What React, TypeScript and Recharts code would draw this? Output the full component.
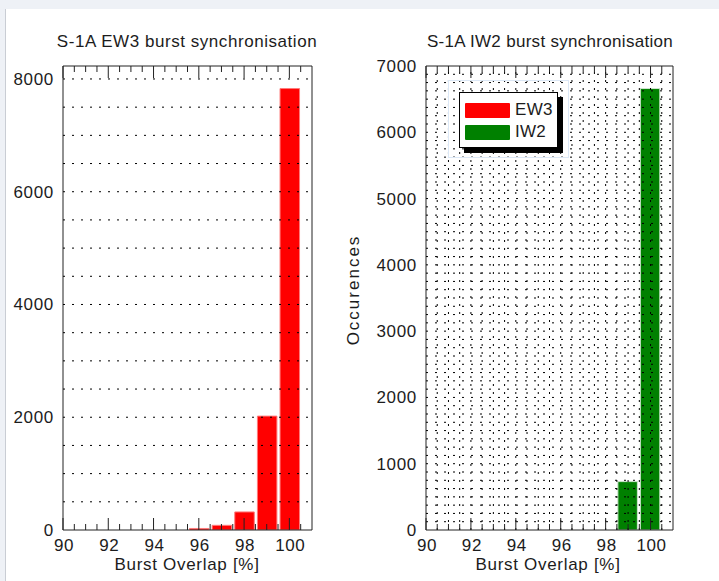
import React from 'react';
import { BarChart, Bar, XAxis, YAxis, ReferenceLine, Legend } from 'recharts';

// ---------- data ----------
const overlapBins = [90, 91, 92, 93, 94, 95, 96, 97, 98, 99, 100];
const ew3Counts = [0, 0, 0, 0, 0, 0, 27, 83, 320, 2020, 7830];
const iw2Counts = [0, 0, 0, 0, 0, 0, 0, 0, 0, 730, 6660];

const xDomain = [90, 101];
const xMajorTicks = [90, 92, 94, 96, 98, 100];
const xMinorTicks = [90.5, 91, 91.5, 92.5, 93, 93.5, 94.5, 95, 95.5, 96.5, 97, 97.5, 98.5, 99, 99.5, 100.5];

const ew3YMax = 8230;
const ew3YTicks = [0, 2000, 4000, 6000, 8000];
const ew3YGrid = [500, 1000, 1500, 2000, 2500, 3000, 3500, 4000, 4500, 5000, 5500, 6000, 6500, 7000, 7500, 8000];

const iw2YMax = 7000;
const iw2YTicks = [0, 1000, 2000, 3000, 4000, 5000, 6000, 7000];
const iw2YGrid = [
  125, 250, 375, 500, 625, 750, 875, 1000, 1125, 1250, 1375, 1500, 1625, 1750, 1875, 2000,
  2125, 2250, 2375, 2500, 2625, 2750, 2875, 3000, 3125, 3250, 3375, 3500, 3625, 3750, 3875, 4000,
  4125, 4250, 4375, 4500, 4625, 4750, 4875, 5000, 5125, 5250, 5375, 5500, 5625, 5750, 5875, 6000,
  6125, 6250, 6375, 6500, 6625, 6750, 6875,
];
const iw2XGrid = [90.5, 91, 91.5, 92, 92.5, 93, 93.5, 94, 94.5, 95, 95.5, 96, 96.5, 97, 97.5, 98, 98.5, 99, 99.5, 100, 100.5];

const seriesNames = ['EW3', 'IW2'];
const seriesColors = ['#ff0000', '#008000'];
const titles = ['S-1A EW3 burst synchronisation', 'S-1A IW2 burst synchronisation'];
const xLabel = 'Burst Overlap [%]';
const yLabel = 'Occurences';

const ew3Data = overlapBins.map((bin, i) => ({ bin, count: ew3Counts[i] }));
const iw2Data = overlapBins.map((bin, i) => ({ bin, count: iw2Counts[i] }));
const xAllTicks = [...xMajorTicks, ...xMinorTicks];

// ---------- layout / styles ----------
const CHART_H = 581;
const M_TOP = 66;
const M_BOTTOM = 51;
const PLOT_H = CHART_H - M_TOP - M_BOTTOM;
const FONT = '"Liberation Sans", Arial, Helvetica, sans-serif';
const TXT = '#1c1c1c';
const AX = '#222';

const XTick = (p: any) => (
  <text x={p.x + 1} y={p.y} dy={12.5} textAnchor="middle" fontFamily={FONT} fontSize={17} letterSpacing={0.6} fill={TXT}>
    {p.payload.value}
  </text>
);
const YTick = (p: any) => (
  <text x={p.x} y={p.y} dy={6} textAnchor="end" fontFamily={FONT} fontSize={17} letterSpacing={0.7} fill={TXT}>
    {p.payload.value}
  </text>
);
// inward tick marks on the bottom and top frame edges (major longer than minor)
const TickMarks = (p: any) => {
  const len = xMajorTicks.includes(p.payload.value) ? 12 : 6;
  const top = p.y - PLOT_H;
  return (
    <g>
      <line x1={p.x} x2={p.x} y1={p.y} y2={p.y - len} stroke={AX} strokeWidth={1} />
      <line x1={p.x} x2={p.x} y1={top} y2={top + len} stroke={AX} strokeWidth={1} />
    </g>
  );
};

const LegendBox = () => (
  <div style={{ position: 'relative', width: 121, height: 78, border: '1px solid #dce8f6', boxSizing: 'border-box' }}>
    <div
      style={{
        position: 'absolute', left: 10, top: 11, width: 99, height: 56, boxSizing: 'border-box',
        border: '1px solid #000', background: '#fff', boxShadow: '5px 5px 0 #000',
      }}
    >
      {seriesNames.map((name, i) => (
        <div key={name} style={{ position: 'absolute', left: 5, top: 9 + i * 22, height: 16, display: 'flex', alignItems: 'center' }}>
          <div style={{ width: 45, height: 15, background: seriesColors[i], borderRadius: 1 }} />
          <span style={{ marginLeft: 5, fontFamily: FONT, fontSize: 17, color: TXT, letterSpacing: 0.3, lineHeight: '16px' }}>{name}</span>
        </div>
      ))}
    </div>
  </div>
);

type PanelProps = {
  left: number; width: number; mL: number; mR: number; data: any[]; color: string; edge: string;
  yMax: number; yTicks: number[]; yGrid: number[]; xGrid: number[]; legend?: boolean;
};

const Panel = ({ left, width, mL, mR, data, color, edge, yMax, yTicks, yGrid, xGrid, legend }: PanelProps) => (
  <>
    {/* base layer: frame, tick labels, bars */}
    <div style={{ position: 'absolute', left, top: 0, zIndex: 1 }}>
      <BarChart width={width} height={CHART_H} data={data} margin={{ top: 0, right: 0, bottom: 0, left: 0 }} barSize={19.5}>
        <XAxis xAxisId="b" dataKey="bin" type="number" domain={xDomain} ticks={xMajorTicks} interval={0} height={M_BOTTOM}
          tickSize={0} tickMargin={8} tickLine={false} axisLine={{ stroke: AX }} tick={XTick} allowDataOverflow />
        <XAxis xAxisId="t" orientation="top" type="number" domain={xDomain} ticks={[]} height={M_TOP}
          tick={false} tickLine={false} axisLine={{ stroke: AX }} allowDataOverflow />
        <YAxis yAxisId="l" width={mL} type="number" domain={[0, yMax]} ticks={yTicks} interval={0}
          tickSize={0} tickMargin={9} tickLine={false} axisLine={{ stroke: AX }} tick={YTick} allowDataOverflow />
        <YAxis yAxisId="r" orientation="right" width={mR} type="number" domain={[0, yMax]} ticks={[]}
          tick={false} tickLine={false} axisLine={{ stroke: AX }} allowDataOverflow />
        <Bar xAxisId="b" yAxisId="l" dataKey="count" fill={color} stroke={edge} strokeWidth={1} isAnimationActive={false} />
      </BarChart>
    </div>
    {/* overlay layer: dotted grid, inward ticks and legend drawn over the bars */}
    <div style={{ position: 'absolute', left, top: 0, zIndex: 2, pointerEvents: 'none' }}>
      <BarChart width={width} height={CHART_H} data={data} margin={{ top: 0, right: 0, bottom: 0, left: 0 }}>
        <XAxis xAxisId="b" dataKey="bin" type="number" domain={xDomain} ticks={xAllTicks} interval={0} height={M_BOTTOM}
          tickSize={0} tickMargin={0} tickLine={false} axisLine={false} tick={TickMarks} allowDataOverflow />
        <XAxis xAxisId="t" orientation="top" type="number" domain={xDomain} ticks={[]} height={M_TOP}
          tick={false} tickLine={false} axisLine={false} allowDataOverflow />
        <YAxis yAxisId="l" width={mL} type="number" domain={[0, yMax]} ticks={[]}
          tick={false} tickLine={false} axisLine={false} allowDataOverflow />
        <YAxis yAxisId="r" orientation="right" width={mR} type="number" domain={[0, yMax]} ticks={[]}
          tick={false} tickLine={false} axisLine={false} allowDataOverflow />
        {yGrid.map((v) => (
          <ReferenceLine key={'h' + v} xAxisId="b" yAxisId="l" y={v} stroke="#000" strokeWidth={1} strokeDasharray="2 7" />
        ))}
        {xGrid.map((v) => (
          <ReferenceLine key={'v' + v} xAxisId="b" yAxisId="l" x={v} stroke="#000" strokeWidth={1} strokeDasharray="2 6" />
        ))}
        {legend && (
          <Legend layout="vertical" align="center" verticalAlign="middle" content={LegendBox}
            wrapperStyle={{ left: 88, top: 80, width: 121, height: 78 }} />
        )}
      </BarChart>
    </div>
  </>
);

const label = (text: string, cx: number, cy: number, spacing: number, rotate = false) => (
  <div
    style={{
      position: 'absolute', left: cx - 150, top: cy - 10, width: 300, height: 20, lineHeight: '20px', zIndex: 3,
      textAlign: 'center', fontFamily: FONT, fontSize: 17, color: TXT, letterSpacing: spacing, whiteSpace: 'nowrap',
      transform: rotate ? 'rotate(-90deg)' : undefined,
    }}
  >
    {text}
  </div>
);

export default function App() {
  return (
    <div style={{ position: 'absolute', left: 0, top: 0, width: 719, height: 581, background: '#eef1f6', overflow: 'hidden' }}>
      <div style={{ position: 'absolute', left: 5, top: 9, width: 714, height: 572, background: '#fff', borderLeft: '1px solid #c9cdd4' }} />
      <Panel left={0} width={360} mL={63} mR={48} data={ew3Data} color={seriesColors[0]} edge="#ff7a7a"
        yMax={ew3YMax} yTicks={ew3YTicks} yGrid={ew3YGrid} xGrid={[]} />
      <Panel left={360} width={359} mL={66} mR={46} data={iw2Data} color={seriesColors[1]} edge="#cfe6cf"
        yMax={iw2YMax} yTicks={iw2YTicks} yGrid={iw2YGrid} xGrid={iw2XGrid} legend />
      {label(titles[0], 187, 42, 0.55)}
      {label(titles[1], 550, 42, 0.3)}
      {label(xLabel, 187, 565, 0.7)}
      {label(xLabel, 548, 565, 0.7)}
      {label(yLabel, 354, 290, 2, true)}
    </div>
  );
}
